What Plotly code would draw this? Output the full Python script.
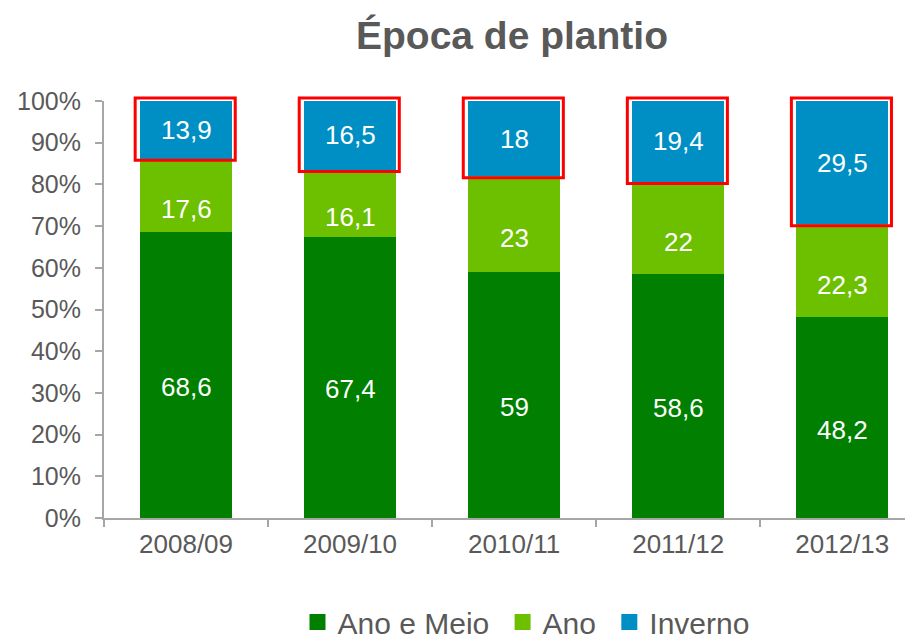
import plotly.graph_objects as go

categories = ["2008/09", "2009/10", "2010/11", "2011/12", "2012/13"]
ano_e_meio = [68.6, 67.4, 59, 58.6, 48.2]
ano = [17.6, 16.1, 23, 22, 22.3]
inverno = [13.9, 16.5, 18, 19.4, 29.5]
series_names = ["Ano e Meio", "Ano", "Inverno"]
colors = ["#007F00", "#6CC000", "#008FC4"]
y_ticks = [0, 10, 20, 30, 40, 50, 60, 70, 80, 90, 100]

FONT = "Liberation Sans, Arial, sans-serif"
GRAY = "#595959"
X_RANGE = [-0.5, 4.48]
Y_RANGE = [0, 100]
LABEL_SHIFT = [-12, -14, 0]  # pixel nudge of the data labels per series


def fmt(v):
    return ("%g" % v).replace(".", ",")


fig = go.Figure()
series = [ano_e_meio, ano, inverno]
for k, (name, vals, col) in enumerate(zip(series_names, series, colors)):
    fig.add_trace(go.Bar(
        x=categories, y=vals, name=name,
        marker=dict(color=col, line=dict(width=0)),
        hoverinfo="skip", showlegend=False,
    ))
    # legend entry with a bigger square swatch
    legend_name = name + ("\u00a0" if k < len(series_names) - 1 else "")
    fig.add_trace(go.Scatter(
        x=[None], y=[None], mode="markers", name=legend_name,
        marker=dict(symbol="square", size=16, color=col),
        hoverinfo="skip", showlegend=True,
    ))

# data labels
for s, vals in enumerate(series):
    for i, cat in enumerate(categories):
        base = sum(series[k][i] for k in range(s))
        fig.add_annotation(
            x=cat, y=base + vals[i] / 2, xref="x", yref="y",
            text=fmt(vals[i]), showarrow=False, yshift=LABEL_SHIFT[s],
            font=dict(color="white", size=26, family=FONT),
        )


def px_x(v):
    return (v - X_RANGE[0]) / (X_RANGE[1] - X_RANGE[0])


def px_y(v):
    return (v - Y_RANGE[0]) / (Y_RANGE[1] - Y_RANGE[0])


# red boxes around the "Inverno" segments (paper refs so they are not clipped)
for i in range(len(categories)):
    base = ano_e_meio[i] + ano[i]
    top = min(base + inverno[i], 100)
    fig.add_shape(type="rect", xref="paper", yref="paper",
                  x0=px_x(i - 0.31), x1=px_x(i + 0.30),
                  y0=px_y(base - 0.4), y1=px_y(top + 0.7),
                  line=dict(color="#FF0000", width=3), fillcolor="rgba(0,0,0,0)",
                  layer="above")

fig.update_layout(
    barmode="stack",
    bargap=0.44,
    width=913, height=638,
    margin=dict(l=96, r=0, t=93, b=128, autoexpand=False),
    paper_bgcolor="white", plot_bgcolor="white",
    font=dict(family=FONT, color=GRAY),
    title=dict(text="<b>Época de plantio</b>", font=dict(size=39, color=GRAY, family=FONT),
               x=504 / 913, xanchor="center", xref="container",
               y=1 - 27 / 638, yanchor="middle", yref="container", automargin=False),
    showlegend=True,
    legend=dict(orientation="h", x=518 / 913, xanchor="center", xref="container",
                y=1 - 614 / 638, yanchor="middle", yref="container",
                font=dict(size=30, color=GRAY, family=FONT),
                tracegroupgap=0, traceorder="normal", itemsizing="trace"),
)

fig.update_xaxes(
    type="category", range=X_RANGE, automargin=False,
    showline=True, linecolor="#A6A6A6", linewidth=2,
    ticks="outside", ticklen=7, tickcolor="#A6A6A6", tickwidth=2,
    tickson="boundaries", showgrid=False,
    tickfont=dict(size=26, color=GRAY, family=FONT),
    ticklabelstandoff=2,
)
fig.update_yaxes(
    range=Y_RANGE, tickvals=y_ticks, ticktext=[f"{v}%" for v in y_ticks],
    automargin=False,
    showline=True, linecolor="#A6A6A6", linewidth=2,
    ticks="outside", ticklen=7, tickcolor="#A6A6A6", tickwidth=2,
    showgrid=False, zeroline=False,
    tickfont=dict(size=25, color=GRAY, family=FONT),
    ticklabelstandoff=9,
)

fig.write_html("out.html")
